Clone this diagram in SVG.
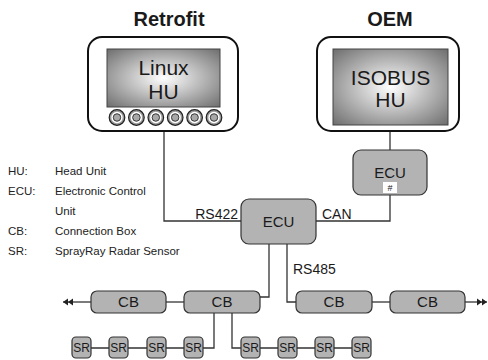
<svg xmlns="http://www.w3.org/2000/svg" width="488" height="360" viewBox="0 0 488 360">
<defs>
<radialGradient id="scr" cx="50%" cy="50%" r="70%">
<stop offset="0" stop-color="#ffffff"/>
<stop offset="1" stop-color="#6e6e6e"/>
</radialGradient>
<marker id="arr" viewBox="0 0 12 8" refX="12" refY="4" markerWidth="12" markerHeight="8" markerUnits="userSpaceOnUse" orient="auto">
<path d="M2,0.5 L7,4 L2,7.5 Z M7,0.5 L12,4 L7,7.5 Z" fill="#222"/>
</marker>
<g id="btn">
<circle r="7.8" fill="#9a9a9a" stroke="#222" stroke-width="1.2"/>
<circle r="4.8" fill="none" stroke="#fff" stroke-width="1.8"/>
<circle r="3.7" fill="#a8a8a8" stroke="#333" stroke-width="0.9"/>
</g>
</defs>
<style>
text{font-family:"Liberation Sans",Arial,sans-serif;fill:#1a1a1a}
.title{font-size:20px;font-weight:bold;text-anchor:middle}
.dev{fill:#fff;stroke:#111;stroke-width:2}
.screen{fill:url(#scr);stroke:#444;stroke-width:1}
.big{font-size:21px;text-anchor:middle}
.box{fill:#b3b3b3;stroke:#333;stroke-width:1.2}
.lbl{font-size:15px;text-anchor:middle}
.sr{font-size:12px;text-anchor:middle}
.bus{font-size:14px}
.leg{font-size:11.5px;fill:#222}
.ln{fill:none;stroke:#333;stroke-width:1.3}
</style>

<text class="title" x="169" y="26">Retrofit</text>
<text class="title" x="390" y="26">OEM</text>

<g id="connectors">
<path class="ln" d="M164,131 V221 H241"/>
<path class="ln" d="M316,221 H390 V195"/>
<path class="ln" d="M390,131 V150"/>
<path class="ln" d="M269,244 V297 H260"/>
<path class="ln" d="M287,244 V302 H296"/>
<path class="ln" d="M166,302 H184"/>
<path class="ln" d="M372,302 H390"/>
<path class="ln" d="M91,302 H63" marker-end="url(#arr)"/>
<path class="ln" d="M465,302 H487" marker-end="url(#arr)"/>
<path class="ln" d="M214,313 V348 H203"/>
<path class="ln" d="M232,313 V348 H241"/>
<path class="ln" d="M91,348 H109 M128,348 H147 M166,348 H184"/>
<path class="ln" d="M260,348 H278 M297,348 H315 M334,348 H352"/>
<text class="bus" x="238" y="219" text-anchor="end">RS422</text>
<text class="bus" x="322" y="219">CAN</text>
<text class="bus" x="293" y="274">RS485</text>
</g>

<g id="linux-hu">
<rect class="dev" x="88" y="37" width="150" height="94" rx="14"/>
<rect class="screen" x="107" y="49" width="113" height="58"/>
<text class="big" x="163.5" y="75">Linux</text>
<text class="big" x="163.5" y="99">HU</text>
<use href="#btn" x="117" y="117.5"/>
<use href="#btn" x="136.4" y="117.5"/>
<use href="#btn" x="155.8" y="117.5"/>
<use href="#btn" x="175.2" y="117.5"/>
<use href="#btn" x="194.6" y="117.5"/>
<use href="#btn" x="214" y="117.5"/>
</g>

<g id="isobus-hu">
<rect class="dev" x="317" y="37" width="142" height="94" rx="14"/>
<rect class="screen" x="333" y="49" width="115" height="76"/>
<text class="big" x="390.5" y="85">ISOBUS</text>
<text class="big" x="390.5" y="107">HU</text>
</g>

<g id="ecu-oem">
<rect class="box" x="353" y="150" width="74" height="45" rx="8"/>
<text class="lbl" x="390" y="178">ECU</text>
<rect x="383" y="182" width="14" height="11" fill="#fff"/>
<text x="390" y="191" font-size="9" text-anchor="middle">#</text>
</g>

<g id="ecu-main">
<rect class="box" x="241" y="199" width="75" height="45" rx="8"/>
<text class="lbl" x="278.5" y="227">ECU</text>
</g>

<g id="cb1"><rect class="box" x="91" y="291" width="75" height="22" rx="6"/><text class="lbl" x="128.5" y="307">CB</text></g>
<g id="cb2"><rect class="box" x="184" y="291" width="76" height="22" rx="6"/><text class="lbl" x="222" y="307">CB</text></g>
<g id="cb3"><rect class="box" x="296" y="291" width="76" height="22" rx="6"/><text class="lbl" x="334" y="307">CB</text></g>
<g id="cb4"><rect class="box" x="390" y="291" width="75" height="22" rx="6"/><text class="lbl" x="427.5" y="307">CB</text></g>

<g id="sr1"><rect class="box" x="72" y="337" width="19" height="21" rx="4"/><text class="sr" x="81.5" y="352">SR</text></g>
<g id="sr2"><rect class="box" x="109" y="337" width="19" height="21" rx="4"/><text class="sr" x="118.5" y="352">SR</text></g>
<g id="sr3"><rect class="box" x="147" y="337" width="19" height="21" rx="4"/><text class="sr" x="156.5" y="352">SR</text></g>
<g id="sr4"><rect class="box" x="184" y="337" width="19" height="21" rx="4"/><text class="sr" x="193.5" y="352">SR</text></g>
<g id="sr5"><rect class="box" x="241" y="337" width="19" height="21" rx="4"/><text class="sr" x="250.5" y="352">SR</text></g>
<g id="sr6"><rect class="box" x="278" y="337" width="19" height="21" rx="4"/><text class="sr" x="287.5" y="352">SR</text></g>
<g id="sr7"><rect class="box" x="315" y="337" width="19" height="21" rx="4"/><text class="sr" x="324.5" y="352">SR</text></g>
<g id="sr8"><rect class="box" x="352" y="337" width="19" height="21" rx="4"/><text class="sr" x="361.5" y="352">SR</text></g>

<g id="legend">
<text class="leg" x="8" y="175">HU:</text><text class="leg" x="55" y="175">Head Unit</text>
<text class="leg" x="8" y="195">ECU:</text><text class="leg" x="55" y="195">Electronic Control</text>
<text class="leg" x="55" y="215">Unit</text>
<text class="leg" x="8" y="235">CB:</text><text class="leg" x="55" y="235">Connection Box</text>
<text class="leg" x="8" y="255">SR:</text><text class="leg" x="55" y="255">SprayRay Radar Sensor</text>
</g>
</svg>
